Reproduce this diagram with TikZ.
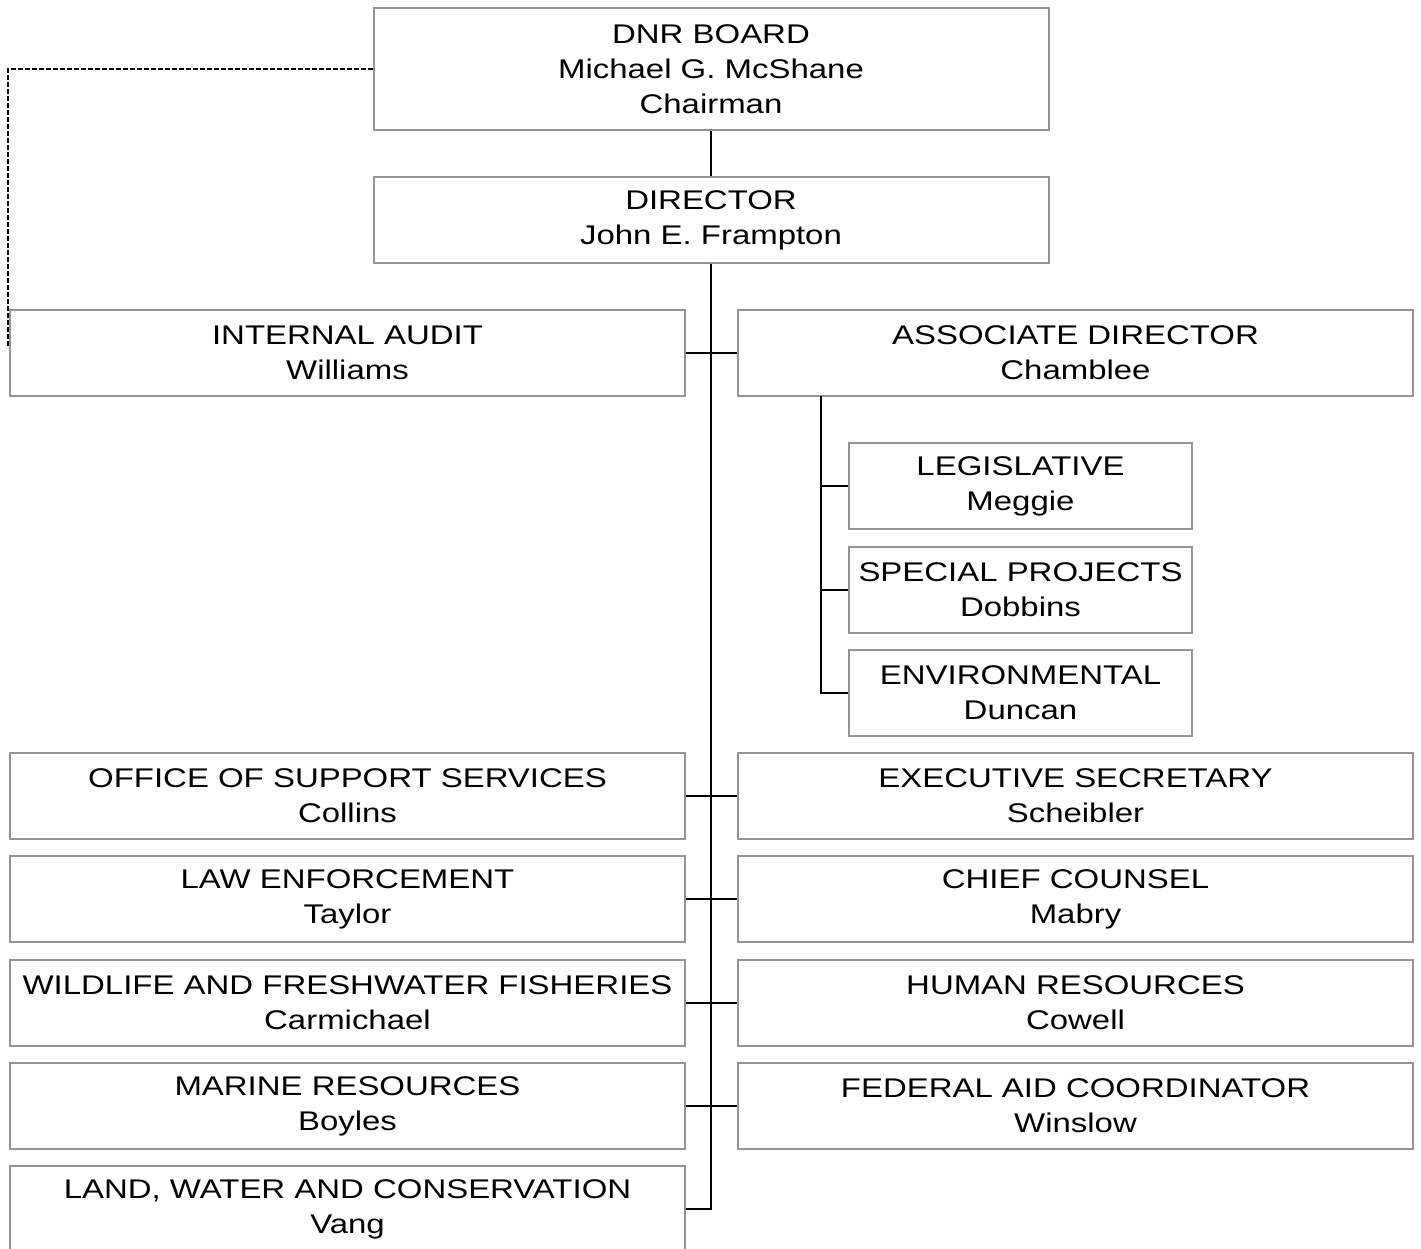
\documentclass[tikz,border=0pt]{standalone}
\usepackage{fontspec}
\setmainfont{Liberation Sans}[FakeStretch=1.22]

\begin{document}
\begin{tikzpicture}[x=1pt,y=-1pt,
  box/.style={draw=black!42,line width=2pt,minimum height=86pt,align=center,
    inner sep=0pt,font=\fontsize{27}{35}\selectfont},
  wide/.style={box,minimum width=675pt},
  sub/.style={box,minimum width=343pt},
  link/.style={line width=2.5pt},
  dotlink/.style={line width=1.2pt,dash pattern=on 5pt off 2pt}]
\useasboundingbox (0,0) rectangle (1421,1249);
\node (board) at (711,69) [wide,minimum height=122pt] {DNR BOARD\\Michael G. McShane\\Chairman};
\node (director) at (711,220) [wide] {DIRECTOR\\John E. Frampton};
\node (audit) at (347.5,353) [wide] {INTERNAL AUDIT\\Williams};
\node (assoc) at (1075.5,353) [wide] {ASSOCIATE DIRECTOR\\Chamblee};
\node (leg) at (1020.5,486) [sub] {LEGISLATIVE\\Meggie};
\node (special) at (1020.5,590) [sub] {SPECIAL PROJECTS\\Dobbins};
\node (env) at (1020.5,693) [sub] {ENVIRONMENTAL\\Duncan};
\node (support) at (347.5,796) [wide] {OFFICE OF SUPPORT SERVICES\\Collins};
\node (secretary) at (1075.5,796) [wide] {EXECUTIVE SECRETARY\\Scheibler};
\node (law) at (347.5,899) [wide] {LAW ENFORCEMENT\\Taylor};
\node (counsel) at (1075.5,899) [wide] {CHIEF COUNSEL\\Mabry};
\node (wildlife) at (347.5,1003) [wide] {WILDLIFE AND FRESHWATER FISHERIES\\Carmichael};
\node (hr) at (1075.5,1003) [wide] {HUMAN RESOURCES\\Cowell};
\node (marine) at (347.5,1106) [wide] {MARINE RESOURCES\\Boyles};
\node (aid) at (1075.5,1106) [wide] {FEDERAL AID COORDINATOR\\Winslow};
\node (land) at (347.5,1209) [wide] {LAND, WATER AND CONSERVATION\\Vang};
\coordinate (subtop) at (821,396);
\coordinate (dashend) at (8,348);
% main line
\draw[link] (board) -- (director);
\draw[link] (director.south) |- (land.east);
\draw[link] (audit.east) -- (assoc.west);
\draw[link] (support.east) -- (secretary.west);
\draw[link] (law.east) -- (counsel.west);
\draw[link] (wildlife.east) -- (hr.west);
\draw[link] (marine.east) -- (aid.west);
% associate director staff
\draw[link] (subtop) |- (env.west);
\draw[link] (subtop |- leg.west) -- (leg.west);
\draw[link] (subtop |- special.west) -- (special.west);
% board to audit
\draw[dotlink] (board.west) -| (dashend);
\end{tikzpicture}
\end{document}
